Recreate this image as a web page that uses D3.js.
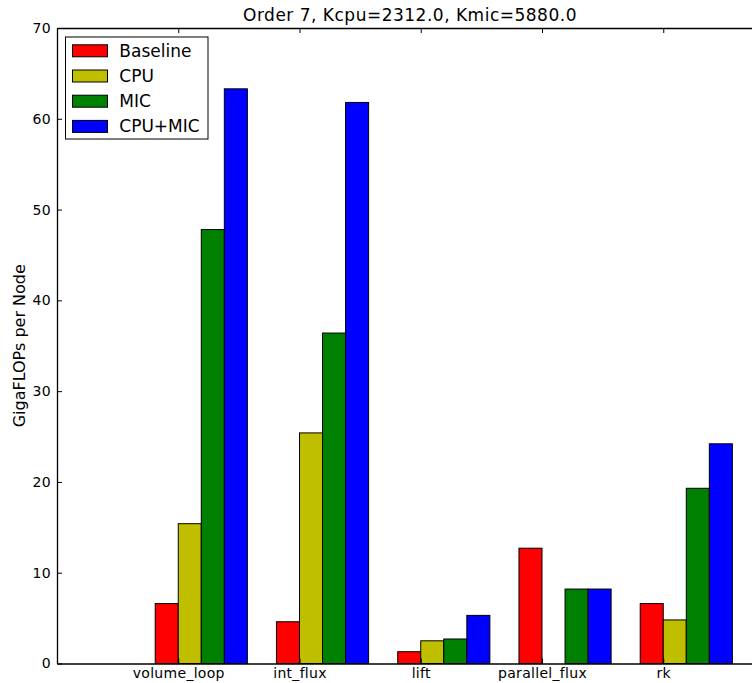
<!DOCTYPE html>
<html>
<head>
<meta charset="utf-8">
<script src="https://cdn.jsdelivr.net/npm/d3@7"></script>
<style>
  body { margin: 0; background: #fff; }
  svg { display: block; font-family: "DejaVu Sans", sans-serif; }
</style>
</head>
<body>
<svg id="chart" width="752" height="683"></svg>
<script>
// Kernel categories and measured throughput per configuration (GigaFLOPs per node)
const categories = ["volume_loop", "int_flux", "lift", "parallel_flux", "rk"];
const seriesNames = ["Baseline", "CPU", "MIC", "CPU+MIC"];
const seriesColors = ["#ff0000", "#bfbf00", "#008000", "#0000ff"];
const baseline = [6.6, 4.6, 1.3, 12.7, 6.6];
const cpu      = [15.4, 25.4, 2.5, 0, 4.8];
const mic      = [47.8, 36.4, 2.7, 8.2, 19.3];
const cpuMic   = [63.3, 61.8, 5.3, 8.2, 24.2];
const yTicks = [0, 10, 20, 30, 40, 50, 60, 70];
const series = [baseline, cpu, mic, cpuMic];

const svg = d3.select("#chart");
const plotLeft = 57, plotTop = 28, plotBottom = 663.5;
const barWidth = 0.19;

// category i has its tick at x = i; the axis extends past the right edge of the page
const x = d3.scaleLinear().domain([-1, 5]).range([plotLeft, plotLeft + 6 * 121.25]);
const y = d3.scaleLinear().domain([0, 70]).range([plotBottom, plotTop]);

// bars: series k in category i spans [i + (k-1)w, i + k w]
series.forEach((vals, k) => {
  svg.append("g").selectAll("rect")
    .data(vals.map((v, i) => ({ v, i })).filter(d => d.v > 0))
    .join("rect")
    .attr("x", d => x(d.i + (k - 1) * barWidth))
    .attr("width", x(barWidth) - x(0))
    .attr("y", d => y(d.v))
    .attr("height", d => y(0) - y(d.v))
    .attr("fill", seriesColors[k])
    .attr("stroke", "#000")
    .attr("stroke-width", 1);
});

// axes with inward ticks
const yAxis = d3.axisLeft(y).tickValues(yTicks).tickSizeInner(-5).tickSizeOuter(0).tickPadding(6);
const gy = svg.append("g").attr("transform", `translate(${plotLeft},0)`).call(yAxis);

svg.append("g").attr("transform", `translate(${x(5)},0)`)
  .call(d3.axisRight(y).tickValues(yTicks).tickSizeInner(-5).tickSizeOuter(0).tickFormat(""));

const xAxis = d3.axisBottom(x).tickValues(d3.range(categories.length))
  .tickFormat(i => categories[i]).tickSizeInner(-5).tickSizeOuter(0).tickPadding(4.5);
const gx = svg.append("g").attr("transform", `translate(0,${plotBottom})`).call(xAxis);

svg.append("g").attr("transform", `translate(0,${plotTop})`)
  .call(d3.axisTop(x).tickValues(d3.range(categories.length)).tickFormat("").tickSizeInner(-5).tickSizeOuter(0));

svg.selectAll("g").attr("font-family", "DejaVu Sans");
svg.selectAll(".tick text").attr("font-size", 14).attr("fill", "#000").attr("letter-spacing", 0.3);
svg.selectAll(".domain").attr("stroke", "#000").attr("stroke-width", 1.3);
svg.selectAll(".tick line").attr("stroke", "#000");

// title and y label
svg.append("text")
  .attr("x", 410).attr("y", 21)
  .attr("text-anchor", "middle")
  .attr("font-size", 17)
  .attr("letter-spacing", 0.5)
  .text("Order 7, Kcpu=2312.0, Kmic=5880.0");

svg.append("text")
  .attr("transform", `translate(25,${(plotTop + plotBottom) / 2}) rotate(-90)`)
  .attr("text-anchor", "middle")
  .attr("font-size", 16)
  .text("GigaFLOPs per Node");

// legend
const legend = svg.append("g").attr("transform", "translate(65.5,37)");
legend.append("rect").attr("width", 142.5).attr("height", 102)
  .attr("fill", "#fff").attr("stroke", "#000").attr("stroke-width", 1);
seriesNames.forEach((name, k) => {
  const row = legend.append("g").attr("transform", `translate(0,${13.8 + k * 25.2})`);
  row.append("rect").attr("x", 7).attr("y", -6).attr("width", 35).attr("height", 12)
    .attr("fill", seriesColors[k]).attr("stroke", "#000").attr("stroke-width", 1);
  row.append("text").attr("x", 53.8).attr("y", 5.8).attr("font-size", 17).text(name);
});
</script>
</body>
</html>
